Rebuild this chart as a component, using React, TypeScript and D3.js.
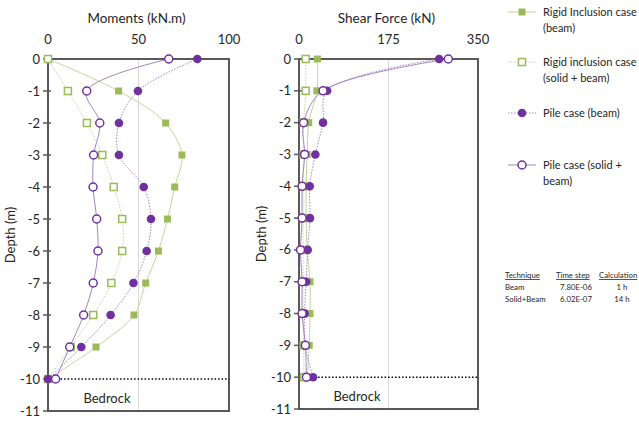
import * as d3 from 'd3';

const FONT = 'Lato, "Open Sans", sans-serif';
const GREEN = '#9bbb59';
const GREEN_LINE = '#c3d69b';
const PURPLE = '#7030a0';
const PURPLE_LINE = '#a783c6';
const FRAME = '#595959';

// depth of each measurement point (m)
const depths = [0, -1, -2, -3, -4, -5, -6, -7, -8, -9, -10];
const depthTicks = [0, -1, -2, -3, -4, -5, -6, -7, -8, -9, -10, -11];

// moments (kN.m)
const momentRigidBeam = [0, 39, 65, 74, 70, 66, 61, 54, 47.5, 26.5, 0];
const momentRigidSolid = [0, 11, 21.5, 30, 36.3, 41, 41, 35, 25, 12.5, 0];
const momentPileBeam = [82.5, 49.7, 39.2, 39.2, 52.9, 56.9, 54.5, 47.2, 34.6, 18.4, 0];
const momentPileSolid = [66.7, 21.4, 28.6, 25.2, 24.9, 26.9, 27.6, 25, 19.7, 12, 4.2];
const momentTicks = [0, 50, 100];

// shear force (kN)
const shearRigidBeam = [36, 35, 19, 16, 14, 14, 16, 21.5, 21.5, 20, 16];
const shearRigidSolid = [13, 13, 9, 9, 8, 8, 8, 8, 8, 9, 10];
const shearPileBeam = [274, 55, 47, 32, 21, 21.5, 17, 14, 11, 12, 27.5];
const shearPileSolid = [292, 47, 9, 11, 6, 6, 3, 6, 6, 12.5, 14.5];
const shearTicks = [0, 175, 350];

const legendLabels = [
    ['Rigid Inclusion case', '(beam)'],
    ['Rigid inclusion case', '(solid + beam)'],
    ['Pile case (beam)'],
    ['Pile case (solid +', 'beam)'],
];

const tableHeader = ['Technique', 'Time step', 'Calculation'];
const tableRows = [
    ['Beam', '7.80E-06', '1 h'],
    ['Solid+Beam', '6.02E-07', '14 h'],
];

type SeriesStyle = { color: string; line: string; dash?: string; shape: 'square' | 'circle'; filled: boolean };
const styles: SeriesStyle[] = [
    { color: GREEN, line: GREEN_LINE, shape: 'square', filled: true },
    { color: GREEN, line: GREEN_LINE, dash: '1.5,1.5', shape: 'square', filled: false },
    { color: PURPLE, line: PURPLE_LINE, dash: '1.5,1.5', shape: 'circle', filled: true },
    { color: PURPLE, line: PURPLE_LINE, shape: 'circle', filled: false },
];

const Marker = ({ x, y, s }: { x: number; y: number; s: SeriesStyle }) =>
    s.shape === 'square' ? (
        s.filled ? (
            <rect x={x - 3.5} y={y - 3.5} width={7} height={7} fill={s.color} />
        ) : (
            <rect x={x - 3.5} y={y - 3.5} width={7} height={7} fill="#fff" stroke={s.color} strokeWidth={1.5} />
        )
    ) : s.filled ? (
        <circle cx={x} cy={y} r={4.3} fill={s.color} />
    ) : (
        <circle cx={x} cy={y} r={4} fill="#fff" stroke={s.color} strokeWidth={1.5} />
    );

type PanelProps = {
    left: number;
    right: number;
    top: number;
    bottom: number;
    title: string;
    ticks: number[];
    series: number[][];
    bedrockX: number;
    depthLabelX: number;
};

const Panel = ({ left, right, top, bottom, title, ticks, series, bedrockX, depthLabelX }: PanelProps) => {
    const xScale = d3.scaleLinear().domain([ticks[0], ticks[ticks.length - 1]]).range([left, right]);
    const yScale = d3.scaleLinear().domain([0, -11]).range([top, bottom]);
    const line = d3
        .line<number>()
        .x(d => xScale(d))
        .y((_, i) => yScale(depths[i]))
        .curve(d3.curveCatmullRom.alpha(0.5));
    const lastMax = d3.max(series.map(s => s[s.length - 1])) ?? 0;

    return (
        <g>
            {/* grid line at the middle tick */}
            {ticks.slice(1, -1).map(t => (
                <line key={t} x1={xScale(t)} x2={xScale(t)} y1={top} y2={bottom} stroke="#d9d9d9" strokeWidth={1} />
            ))}
            <rect x={left} y={top} width={right - left} height={bottom - top} fill="none" stroke={FRAME} strokeWidth={2} />
            {depthTicks.map(t => (
                <g key={t}>
                    <line x1={left - 5} x2={left + 3} y1={yScale(t)} y2={yScale(t)} stroke={FRAME} strokeWidth={1.5} />
                    <text x={left - 8} y={yScale(t)} dy="0.35em" textAnchor="end" fontSize={13} fill="#262626">
                        {t}
                    </text>
                </g>
            ))}
            {ticks.map(t => (
                <text key={t} x={xScale(t)} y={top - 15} textAnchor="middle" fontSize={13} fill="#262626">
                    {t}
                </text>
            ))}
            <text x={(left + right) / 2 - 2} y={top - 36} textAnchor="middle" fontSize={13.5} fill="#262626">
                {title}
            </text>
            <text
                transform={`translate(${depthLabelX},${(top + bottom) / 2}) rotate(-90)`}
                textAnchor="middle"
                fontSize={13}
                fill="#262626"
            >
                Depth (m)
            </text>
            {/* bedrock level */}
            <line
                x1={xScale(lastMax) + 5}
                x2={right}
                y1={yScale(-10)}
                y2={yScale(-10)}
                stroke="#000"
                strokeWidth={1.5}
                strokeDasharray="1.5,2"
            />
            <text x={bedrockX} y={yScale(-10.6)} dy="0.35em" textAnchor="middle" fontSize={13} fill="#262626">
                Bedrock
            </text>
            {series.map((s, k) => (
                <path key={k} d={line(s) ?? ''} fill="none" stroke={styles[k].line} strokeWidth={1} strokeDasharray={styles[k].dash} />
            ))}
            {series.map((s, k) => (
                <g key={k}>
                    {s.map((v, i) => (
                        <Marker key={i} x={xScale(v)} y={yScale(depths[i])} s={styles[k]} />
                    ))}
                </g>
            ))}
        </g>
    );
};

export default function App() {
    const legendY = [12, 62, 113, 165];
    const colX = [505, 556, 599];
    return (
        <svg width={639} height={421} style={{ position: 'absolute', left: 0, top: 0, fontFamily: FONT }}>
            <rect width={639} height={421} fill="#fff" />
            <Panel
                left={48}
                right={229}
                top={59}
                bottom={411}
                title="Moments (kN.m)"
                ticks={momentTicks}
                series={[momentRigidBeam, momentRigidSolid, momentPileBeam, momentPileSolid]}
                bedrockX={107}
                depthLabelX={15}
            />
            <Panel
                left={299}
                right={478}
                top={59}
                bottom={409}
                title="Shear Force (kN)"
                ticks={shearTicks}
                series={[shearRigidBeam, shearRigidSolid, shearPileBeam, shearPileSolid]}
                bedrockX={357}
                depthLabelX={266}
            />
            {/* legend */}
            {legendLabels.map((lab, k) => (
                <g key={k}>
                    <line
                        x1={508}
                        x2={536}
                        y1={legendY[k]}
                        y2={legendY[k]}
                        stroke={styles[k].line}
                        strokeWidth={1}
                        strokeDasharray={styles[k].dash}
                    />
                    <Marker x={522} y={legendY[k]} s={styles[k]} />
                    {lab.map((t, j) => (
                        <text key={j} x={543} y={legendY[k] + j * 16} dy="0.35em" fontSize={11} fill="#262626">
                            {t}
                        </text>
                    ))}
                </g>
            ))}
            {/* table */}
            <g fontSize={7.8} fill="#262626">
                {tableHeader.map((t, i) => (
                    <text key={t} x={colX[i]} y={278} textDecoration="underline">
                        {t}
                    </text>
                ))}
                {tableRows.map((row, r) => (
                    <g key={r}>
                        <text x={505} y={290 + r * 12}>{row[0]}</text>
                        <text x={576} y={290 + r * 12} textAnchor="middle">{row[1]}</text>
                        <text x={622} y={290 + r * 12} textAnchor="middle">{row[2]}</text>
                    </g>
                ))}
            </g>
        </svg>
    );
}
